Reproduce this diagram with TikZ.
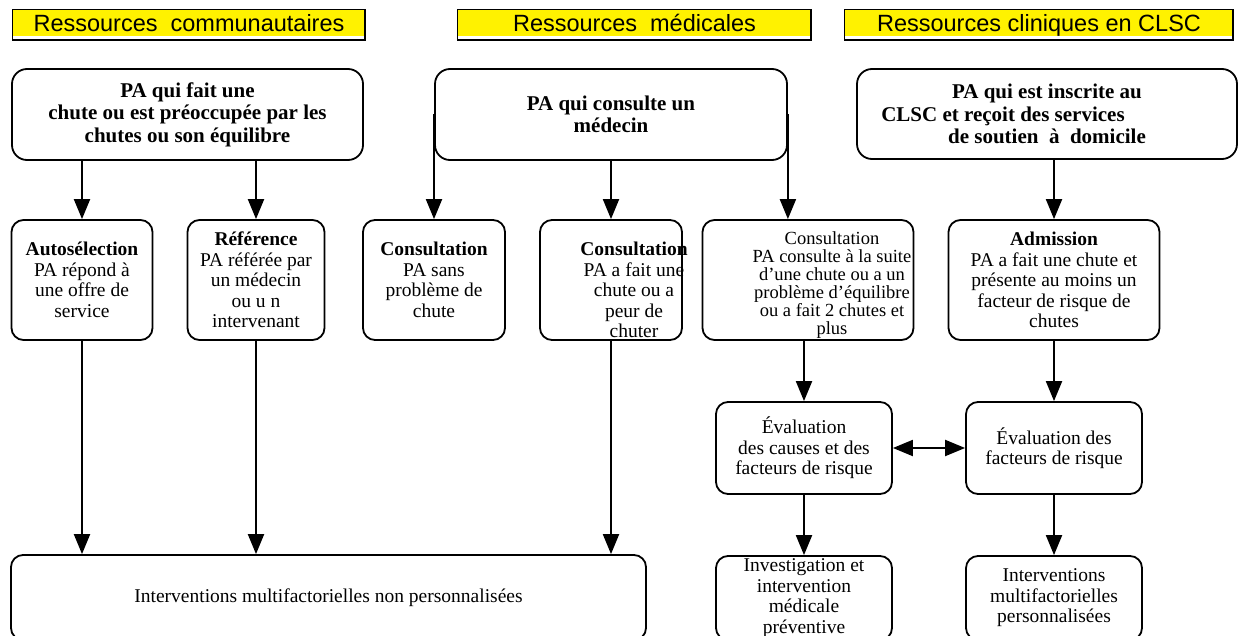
\documentclass[tikz,border=0pt]{standalone}
\usepackage{fontspec}
\setmainfont{Liberation Serif}
\newfontfamily\hdrfont{Liberation Sans}
\usetikzlibrary{arrows.meta}

\begin{document}
\begin{tikzpicture}[x=1pt,y=-1pt,
  box/.style={draw,line width=1.8pt,rounded corners=12pt,inner sep=0pt,align=center,
    font=\fontsize{19.5}{20.5}\selectfont},
  topbox/.style={box,rounded corners=15pt,font=\bfseries\fontsize{21}{22.5}\selectfont},
  hdr/.style={fill=yellow,inner sep=0pt,minimum height=26pt,text height=20pt,text depth=2pt,
    font=\hdrfont\fontsize{23.5}{26}\selectfont},
  txt/.style={inner sep=0pt,align=center,font=\fontsize{19.5}{20.5}\selectfont},
  arr/.style={line width=2pt,-{Triangle[length=20pt,width=16pt]}}]
\clip (0,0) rectangle (1238,636);

\node [hdr,minimum width=352pt] (hcom) at (189,23) {Ressources~~communautaires};
\node [hdr,minimum width=353pt] (hmed) at (634.5,23) {Ressources~~médicales};
\node [hdr,minimum width=388pt] (hclsc) at (1039,23) {Ressources cliniques en CLSC};
\foreach \h in {hcom,hmed,hclsc}{
  \draw [line width=0.8pt] (\h.north west) rectangle ([yshift=-4pt]\h.south east);
  \draw [line width=2pt] ([yshift=-4pt]\h.south west) -- ([yshift=-4pt]\h.south east)
    -- (\h.north east);
}

\node [topbox,minimum width=351pt,minimum height=91pt] (chute) at (187.5,114.5)
  {PA qui fait une\\ chute ou est préoccupée par les\\ chutes ou son équilibre};
\node [topbox,minimum width=352pt,minimum height=91pt] (medecin) at (611,114.5)
  {PA qui consulte un\\ médecin};
\node [topbox,minimum width=380pt,minimum height=90pt] (clsc) at (1047,114)
  {PA qui est inscrite au\\ CLSC et reçoit des services\rule{88pt}{0pt}\\ de soutien~~à~~domicile};

\node [box,minimum width=141pt,minimum height=120pt] (auto) at (82,280)
  {\textbf{Autosélection}\\ PA répond à\\ une offre de\\ service};
\node [box,minimum width=137pt,minimum height=120pt] (ref) at (256,280)
  {\textbf{Référence}\\ PA référée par\\ un médecin\\ ou u n\\ intervenant};
\node [box,minimum width=142pt,minimum height=120pt] (sans) at (434,280)
  {\textbf{Consultation}\\ PA sans\\ problème de\\ chute};
\node [box,minimum width=142pt,minimum height=120pt] (peur) at (611,280) {};
\node [txt] (peurt) at (634,290)
  {\textbf{Consultation}\\ PA a fait une\\ chute ou a\\ peur de\\ chuter};
\node [box,minimum width=211pt,minimum height=120pt] (suite) at (808,280) {};
\node [txt,font=\fontsize{18.5}{18}\selectfont] (suitet) at (832,285.5)
  {Consultation\\ PA consulte à la suite\\ d’une chute ou a un\\ problème d’équilibre\\
   ou a fait 2 chutes et\\ plus};
\node [box,minimum width=211pt,minimum height=120pt] (admis) at (1054,280)
  {\textbf{Admission}\\ PA a fait une chute et\\ présente au moins un\\ facteur de risque de\\ chutes};

\node [box,minimum width=176pt,minimum height=92pt] (evalm) at (804,448)
  {Évaluation\\ des causes et des\\ facteurs de risque};
\node [box,minimum width=176pt,minimum height=92pt] (evalc) at (1054,448)
  {Évaluation des\\ facteurs de risque};

\node [box,minimum width=635pt,minimum height=85pt] (nonperso) at (328.5,597.5)
  {Interventions multifactorielles non personnalisées};
\node [box,minimum width=176pt,minimum height=84pt] (invest) at (804,598)
  {Investigation et\\ intervention\\ médicale\\ préventive};
\node [box,minimum width=176pt,minimum height=84pt] (perso) at (1054,598)
  {Interventions\\ multifactorielles\\ personnalisées};

\draw [arr] (chute.south -| auto.north) -- (auto.north);
\draw [arr] (chute.south -| ref.north) -- (ref.north);
\draw [arr] (sans.north |- medecin.west) -- (sans.north);
\draw [arr] (medecin.south) -- (peur.north);
\draw [arr] (medecin.east) -- (medecin.east |- suite.north);
\draw [arr] (admis.north |- clsc.south) -- (admis.north);
\draw [arr] (evalm.north |- suite.south) -- (evalm.north);
\draw [arr] (evalc.north |- admis.south) -- (evalc.north);
\draw [arr,{Triangle[length=20pt,width=16pt]}-{Triangle[length=20pt,width=16pt]}]
  (evalm.east) -- (evalc.west);
\draw [arr] (evalm.south) -- (invest.north);
\draw [arr] (evalc.south) -- (perso.north);
\draw [arr] (auto.south) -- (auto.south |- nonperso.north);
\draw [arr] (ref.south) -- (ref.south |- nonperso.north);
\draw [arr] (peur.south) -- (peur.south |- nonperso.north);
\end{tikzpicture}
\end{document}
